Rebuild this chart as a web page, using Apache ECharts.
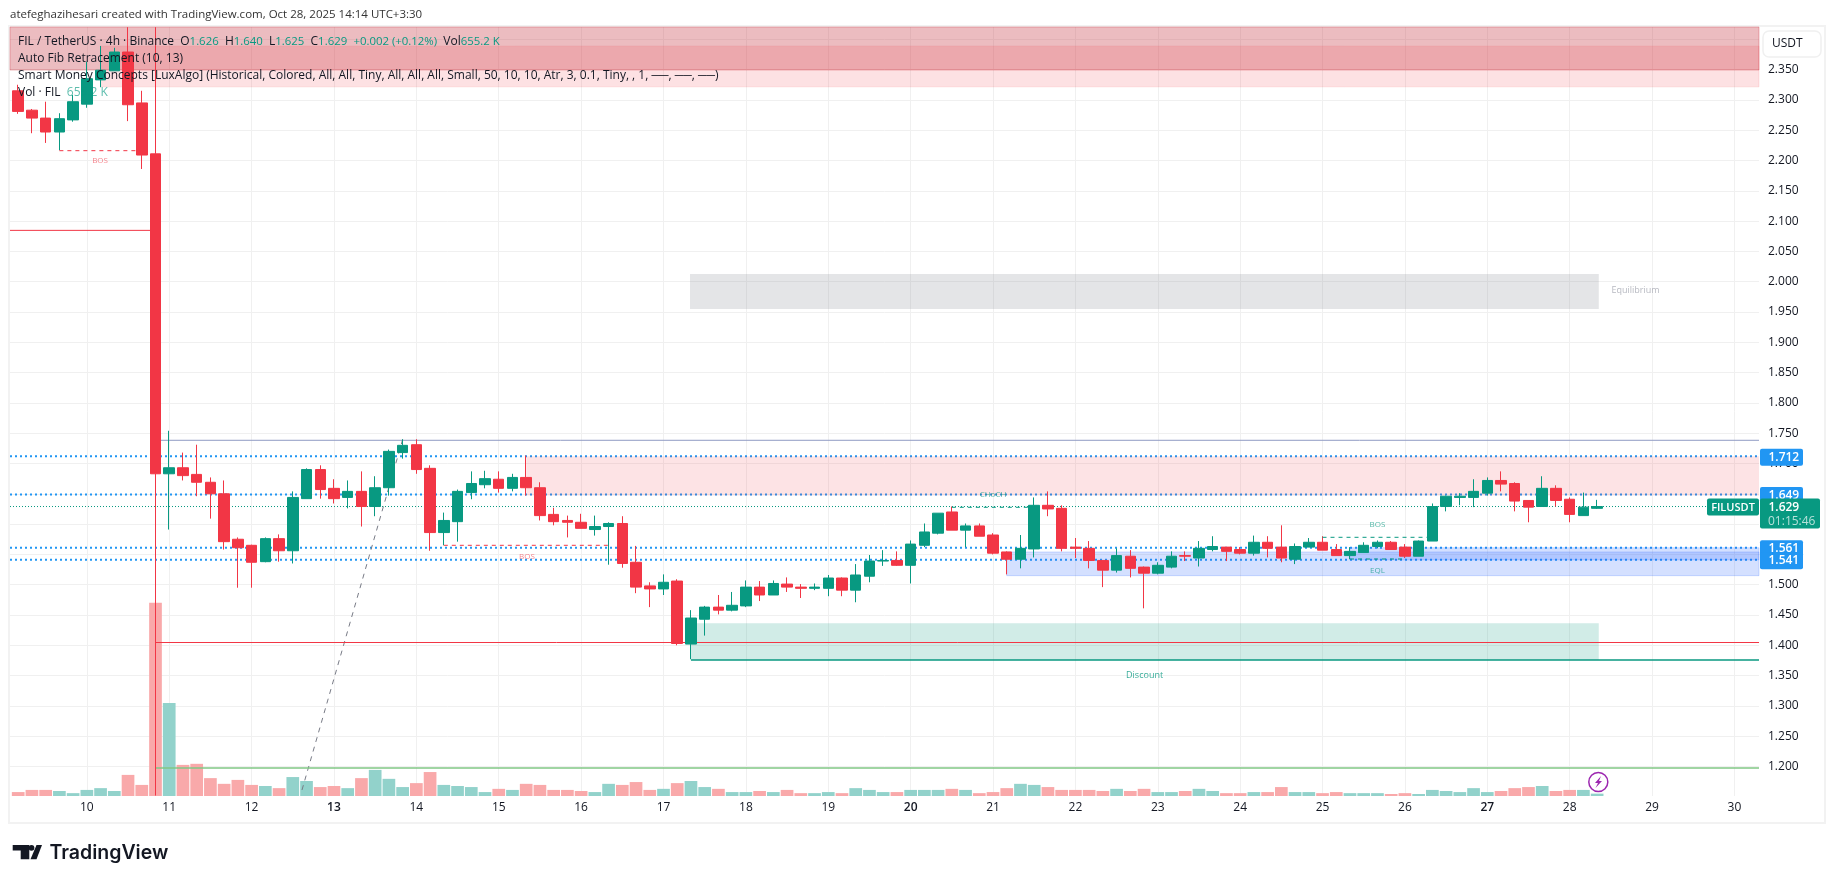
<!DOCTYPE html>
<html lang="en">
<head>
  <meta charset="UTF-8">
  <script src="https://cdn.jsdelivr.net/npm/echarts@6/dist/echarts.min.js"></script>
  <style>html,body{margin:0;padding:0;background:#fff}</style>
</head>
<body>
  <div id="main" style="width:1835px;height:883px;"></div>
  <script type="text/javascript">
    // 4h candles, one row = 10 bars
    const opens = [
      2.315,2.283,2.270,2.247,2.267,2.293,2.333,2.348,2.379,2.295,
      2.211,1.683,1.693,1.682,1.669,1.650,1.575,1.565,1.538,1.576,
      1.556,1.642,1.690,1.659,1.644,1.654,1.629,1.660,1.718,1.731,
      1.692,1.586,1.604,1.652,1.665,1.674,1.659,1.677,1.660,1.616,
      1.606,1.603,1.591,1.596,1.601,1.537,1.498,1.493,1.506,1.402,
      1.443,1.463,1.458,1.465,1.496,1.483,1.501,1.496,1.494,1.494,
      1.511,1.491,1.514,1.539,1.540,1.532,1.565,1.585,1.620,1.590,
      1.597,1.582,1.554,1.542,1.559,1.631,1.626,1.562,1.560,1.540,
      1.524,1.547,1.529,1.519,1.529,1.548,1.544,1.558,1.562,1.558,
      1.552,1.570,1.562,1.542,1.562,1.570,1.558,1.548,1.553,1.563,
      1.570,1.562,1.547,1.572,1.629,1.644,1.644,1.651,1.672,1.667,
      1.639,1.629,1.659,1.641,1.614,1.626
    ];
    const closes = [
      2.281,2.270,2.247,2.269,2.297,2.335,2.349,2.379,2.292,2.209,
      1.683,1.693,1.680,1.669,1.650,1.571,1.561,1.537,1.576,1.556,
      1.644,1.690,1.657,1.642,1.654,1.629,1.660,1.720,1.730,1.690,
      1.586,1.606,1.654,1.667,1.675,1.659,1.677,1.660,1.614,1.604,
      1.603,1.593,1.596,1.601,1.535,1.496,1.493,1.504,1.403,1.445,
      1.463,1.458,1.466,1.496,1.483,1.502,1.496,1.494,1.496,1.511,
      1.491,1.516,1.539,1.540,1.532,1.567,1.587,1.618,1.590,1.597,
      1.580,1.552,1.542,1.560,1.631,1.625,1.560,1.560,1.540,1.524,
      1.548,1.527,1.519,1.532,1.547,1.547,1.560,1.563,1.555,1.552,
      1.570,1.560,1.544,1.563,1.570,1.557,1.548,1.555,1.565,1.570,
      1.558,1.547,1.572,1.629,1.646,1.646,1.654,1.672,1.666,1.638,
      1.628,1.659,1.639,1.616,1.628,1.629
    ];
    const lows = [
      2.277,2.245,2.229,2.217,2.264,2.287,2.321,2.348,2.265,2.186,
      1.152,1.591,1.672,1.646,1.609,1.558,1.495,1.495,1.537,1.538,
      1.535,1.642,1.642,1.634,1.626,1.596,1.613,1.647,1.708,1.683,
      1.556,1.565,1.571,1.641,1.659,1.652,1.654,1.647,1.606,1.598,
      1.578,1.593,1.581,1.533,1.528,1.486,1.463,1.483,1.400,1.377,
      1.416,1.451,1.456,1.463,1.473,1.483,1.488,1.478,1.491,1.481,
      1.481,1.471,1.504,1.531,1.531,1.502,1.562,1.583,1.590,1.562,
      1.580,1.550,1.517,1.527,1.545,1.613,1.555,1.544,1.527,1.496,
      1.520,1.512,1.461,1.517,1.527,1.539,1.530,1.555,1.539,1.550,
      1.548,1.545,1.537,1.534,1.562,1.557,1.548,1.542,1.553,1.560,
      1.558,1.544,1.547,1.572,1.621,1.631,1.628,1.647,1.654,1.621,
      1.603,1.629,1.629,1.603,1.614,1.625
    ];
    const highs = [
      2.325,2.285,2.297,2.278,2.308,2.363,2.389,2.386,2.420,2.315,
      2.420,1.754,1.718,1.731,1.677,1.672,1.578,1.566,1.578,1.583,
      1.654,1.692,1.697,1.674,1.672,1.687,1.679,1.723,1.740,1.740,
      1.697,1.619,1.657,1.687,1.688,1.687,1.683,1.713,1.669,1.627,
      1.614,1.617,1.614,1.603,1.613,1.564,1.504,1.517,1.509,1.458,
      1.465,1.483,1.488,1.507,1.506,1.507,1.512,1.501,1.502,1.516,
      1.512,1.534,1.549,1.557,1.555,1.573,1.601,1.618,1.629,1.601,
      1.601,1.585,1.555,1.582,1.644,1.654,1.631,1.577,1.572,1.540,
      1.560,1.557,1.530,1.537,1.555,1.555,1.572,1.580,1.562,1.562,
      1.581,1.580,1.598,1.568,1.577,1.580,1.567,1.562,1.570,1.573,
      1.572,1.567,1.573,1.634,1.647,1.651,1.674,1.677,1.687,1.669,
      1.639,1.679,1.664,1.644,1.652,1.640
    ];
    // volume in millions
    const volumes = [
      1.1,1.7,1.7,1.4,0.8,1.7,2.2,1.4,5.9,3.1,
      54,26,8.7,9,5,3.4,4.5,3.1,2.8,2.2,
      5.3,4.2,2.5,2.8,2.2,5,7.3,4.8,2.5,3.6,
      6.7,3.1,2.8,2.5,1.1,2,1.7,3.4,3.1,1.7,
      1.7,1.4,1.1,3.4,3.1,3.9,1.7,2,3.6,4.2,
      2.5,2,1.1,1.1,1.4,1.1,1.7,0.8,0.8,1.1,
      0.8,2.2,1.7,1.1,1.1,1.7,1.7,1.7,2,1.7,
      0.8,1.1,2.2,3.4,3.1,2.5,1.7,1.7,1.7,1.4,
      2,1.4,2,1.1,1.1,1.4,2,1.4,0.8,0.8,
      1.1,1.1,2.5,1.1,1.1,0.8,1.1,0.8,0.8,0.8,
      0.56,0.8,0.56,1.7,1.4,1.1,2.2,1.1,1.4,2.2,
      2.5,2.8,1.4,1.7,1.7,0.66
    ];

    const dayLabels = ['10','11','12','13','14','15','16','17','18','19','20','21','22','23','24','25','26','27','28','29','30'];
    const boldDays = ['13','20','27'];
    const dayTicks = dayLabels.map((d, i) => 5 + i * 6);
    const priceTicks = [1.2,1.25,1.3,1.35,1.4,1.45,1.5,1.55,1.6,1.65,1.7,1.75,1.8,1.85,1.9,1.95,2.0,2.05,2.1,2.15,2.2,2.25,2.3,2.35,2.4];

    // [first bar, last bar, low price, high price]; null = to the chart edge
    const premiumZone = [null, null, 2.3493, 2.4203];
    const premiumZone2 = [6, null, 2.3215, 2.3887];
    const supplyZone = [37, null, 1.647, 1.712];
    const equilibriumZone = [48.93, 115.12, 1.9549, 2.0127];
    const discountZone = [49, 115.12, 1.3757, 1.4363];
    const liquidityZones = [[72, null, 1.5149, 1.554], [97, null, 1.541, 1.561]];

    // [first bar, last bar, price]
    const alertPrices = [1.712, 1.649, 1.561, 1.541];
    const lastPrice = 1.629;
    const redLevels = [[null, 10, 2.0847], [10, null, 1.4046]];
    const topLevel = [10.4, null, 1.7383];
    const discountLevel = [49, null, 1.3757];
    const volumeLevel = [10, null, 1.1975];
    const redBreaks = [[3, 9, 2.2162], [31, 43, 1.565]];
    const tealBreaks = [[68, 74, 1.6277], [95, 103, 1.5782], [97, 101, 1.5424]];
    const fibTrend = [[20.67, 1.1612], [28, 1.7395]];

    const redNotes = [[5.96, 2.1992, 'BOS'], [37.05, 1.5457, 'BOS']];
    const tealNotes = [[71, 1.6485, 'CHoCH'], [99, 1.599, 'BOS'], [99, 1.5231, 'EQL']];
    const otherNotes = [[82.04, 1.351, 'Discount', '#089981'], [117.8, 1.9863, 'Equilibrium', '#a5a8b2']];

    const UP = '#089981', DOWN = '#f23645';
    const xMin = -0.597, xMax = 126.79;
    const FONT = '"Open Sans", sans-serif';

    const edge = (v, d) => v === null ? d : v;

    function zoneSeries(zones, color, border) {
      return {
        type: 'line', data: [], silent: true, z: 3, animation: false,
        markArea: {
          silent: true, animation: false, z: 3,
          itemStyle: { color: color, borderColor: border || 'transparent', borderWidth: border ? 1 : 0 },
          data: zones.map(z => [{ coord: [edge(z[0], xMin), z[3]] }, { coord: [edge(z[1], xMax), z[2]] }])
        }
      };
    }

    function levelSeries(level, color, width, dash, z) {
      return {
        type: 'line', silent: true, animation: false, showSymbol: false, z: z || 2,
        data: [[edge(level[0], xMin), level[2]], [edge(level[1], xMax), level[2]]],
        lineStyle: { color: color, width: width, type: dash || 'solid' }
      };
    }

    function noteSeries(notes, color, size) {
      return {
        type: 'scatter', silent: true, animation: false, symbolSize: 0, z: 4,
        data: notes.map(n => ({ value: [n[0], n[1]], name: n[2] })),
        label: { show: true, position: 'inside', formatter: '{b}', color: color, fontSize: size, fontFamily: FONT }
      };
    }

    const series = [
      zoneSeries([premiumZone], 'rgba(200,60,70,0.34)', 'rgba(210,60,70,0.35)'),
      zoneSeries([premiumZone2], 'rgba(242,54,69,0.15)', 'rgba(242,54,69,0.12)'),
      zoneSeries([supplyZone], 'rgba(242,54,69,0.14)'),
      zoneSeries([equilibriumZone], 'rgba(120,123,134,0.2)'),
      zoneSeries([discountZone], 'rgba(8,153,129,0.19)'),
      zoneSeries(liquidityZones, 'rgba(41,98,255,0.2)', 'rgba(41,98,255,0.2)')
    ];
    alertPrices.forEach(p => series.push(levelSeries([null, null, p], '#2196f3', 2, [2, 3])));
    series.push(levelSeries([null, null, lastPrice], UP, 1, [1, 2]));
    redLevels.forEach(l => series.push(levelSeries(l, DOWN, 1, 'solid', 4)));
    series.push(levelSeries(topLevel, '#8f9bc4', 1));
    series.push(levelSeries(discountLevel, UP, 1.5, 'solid', 4));
    series.push(levelSeries(volumeLevel, '#81c784', 1.5, 'solid', 4));
    redBreaks.forEach(l => series.push(levelSeries(l, DOWN, 1, [4, 4], 6)));
    tealBreaks.forEach(l => series.push(levelSeries(l, UP, 1, [4, 4], 6)));
    series.push({
      type: 'line', silent: true, animation: false, showSymbol: false, z: 3, data: fibTrend,
      lineStyle: { color: '#787b86', width: 1, type: [5, 5] }
    });
    series.push(noteSeries(redNotes, 'rgba(242,54,69,0.75)', 8));
    series.push(noteSeries(tealNotes, 'rgba(8,153,129,0.85)', 8));
    otherNotes.forEach(n => series.push(noteSeries([n], n[3], 9)));

    series.push({
      type: 'bar', name: 'Vol', yAxisIndex: 1, barWidth: 12.7, z: 3, silent: true, animation: false,
      data: volumes.map((v, i) => ({
        value: [i, v],
        itemStyle: { color: closes[i] >= opens[i] ? '#92d2cb' : '#f9a9aa' }
      }))
    });
    series.push({
      type: 'candlestick', name: 'FILUSDT', barWidth: 11, z: 5, silent: true, animation: false,
      encode: { x: 0, y: [1, 2, 3, 4] },
      data: opens.map((o, i) => [i, o, closes[i], lows[i], highs[i]]),
      itemStyle: { color: UP, color0: DOWN, borderColor: UP, borderColor0: DOWN, borderWidth: 1 }
    });

    var myChart = echarts.init(document.getElementById('main'));
    myChart.setOption({
      animation: false,
      backgroundColor: '#fff',
      grid: { left: 10, top: 27, width: 1749, height: 769 },
      xAxis: {
        type: 'value', min: xMin, max: xMax,
        axisLine: { show: false },
        axisTick: { show: false, customValues: dayTicks },
        splitLine: { show: true, lineStyle: { color: '#f0f0f0', width: 1 } },
        axisLabel: {
          customValues: dayTicks, margin: 6, color: '#131722', fontSize: 12, fontFamily: FONT,
          formatter: v => {
            const d = dayLabels[(v - 5) / 6];
            return boldDays.includes(d) ? '{b|' + d + '}' : d;
          },
          rich: { b: { fontWeight: 600, fontSize: 12, fontFamily: FONT, color: '#131722' } }
        }
      },
      yAxis: [{
        type: 'value', position: 'right', min: 1.1513, max: 2.4203, scale: true,
        axisLine: { show: false },
        axisTick: { show: false, customValues: priceTicks },
        splitLine: { show: true, lineStyle: { color: '#f0f0f0', width: 1 } },
        axisLabel: {
          customValues: priceTicks, margin: 9, color: '#131722', fontSize: 12, fontFamily: FONT,
          padding: [2, 0, 0, 0],
          formatter: v => v.toFixed(3)
        }
      }, {
        type: 'value', min: 0, max: 215, show: false
      }],
      series: series
    });

    // overlay texts, tags at their prices
    const priceY = p => myChart.convertToPixel({ yAxisIndex: 0 }, p);

    function tag(p, text) {
      const y = priceY(p) + 1;
      return [
        { type: 'rect', z: 20, shape: { x: 1760, y: y - 8.5, width: 43, height: 17, r: 2 }, style: { fill: '#2196f3' } },
        { type: 'text', z: 21, style: { x: 1768.5, y: y, text: text, fill: '#fff', font: '600 12px ' + FONT, verticalAlign: 'middle' } }
      ];
    }

    const legendLine = (y, text, rich) => ({
      type: 'text', z: 30,
      style: { x: 18, y: y, text: text, verticalAlign: 'middle', fill: '#131722', font: '12px ' + FONT, rich: rich || {} }
    });
    const legendRich = {
      v: { fill: UP, font: '11.4px ' + FONT },
      f: { fill: 'rgba(8,153,129,0.65)', font: '12px ' + FONT }
    };

    const lastY = priceY(lastPrice) + 1;
    myChart.setOption({
      graphic: [
        { type: 'text', z: 30, style: { x: 10, y: 15, text: 'atefeghazihesari created with TradingView.com, Oct 28, 2025 14:14 UTC+3:30', verticalAlign: 'middle', fill: '#333', font: '11.5px ' + FONT } },
        { type: 'rect', z: 0, shape: { x: 9, y: 26, width: 1816, height: 797 }, style: { fill: 'none', stroke: '#f2f2f2', lineWidth: 2 } },
        legendLine(42, 'FIL / TetherUS · 4h · Binance  O{v|1.626}  H{v|1.640}  L{v|1.625}  C{v|1.629}  {v|+0.002 (+0.12%)}  Vol{v|655.2 K}', legendRich),
        legendLine(59, 'Auto Fib Retracement (10, 13)'),
        legendLine(76, 'Smart Money Concepts [LuxAlgo] (Historical, Colored, All, All, Tiny, All, All, All, Small, 50, 10, 10, Atr, 3, 0.1, Tiny, , 1, ──, ──, ──)'),
        legendLine(93, 'Vol · FIL  {f|655.2 K}', legendRich),

        { type: 'rect', z: 20, shape: { x: 1763, y: 31, width: 58, height: 26, r: 6 }, style: { fill: '#fff', stroke: '#f0f0f0', lineWidth: 1.5 } },
        { type: 'text', z: 21, style: { x: 1772, y: 44, text: 'USDT', verticalAlign: 'middle', fill: '#131722', font: '12px ' + FONT } },

        ...alertPrices.flatMap(p => tag(p, p.toFixed(3))),
        { type: 'rect', z: 22, shape: { x: 1760, y: lastY - 9, width: 60, height: 30, r: 2 }, style: { fill: UP } },
        { type: 'text', z: 23, style: { x: 1768.5, y: lastY, text: lastPrice.toFixed(3), verticalAlign: 'middle', fill: '#fff', font: '600 12px ' + FONT } },
        { type: 'text', z: 23, style: { x: 1768, y: lastY + 14, text: '01:15:46', verticalAlign: 'middle', fill: 'rgba(255,255,255,0.7)', font: '12px ' + FONT } },
        { type: 'rect', z: 22, shape: { x: 1707, y: lastY - 9, width: 52, height: 17, r: 2 }, style: { fill: UP } },
        { type: 'text', z: 23, style: { x: 1733, y: lastY, text: 'FILUSDT', align: 'center', verticalAlign: 'middle', fill: '#fff', font: '600 11px ' + FONT } },

        { type: 'circle', z: 25, shape: { cx: 1598.3, cy: 782, r: 9.5 }, style: { fill: '#fff', stroke: '#9c27b0', lineWidth: 1.5 } },
        { type: 'polygon', z: 26, shape: { points: [[1601, 776], [1595, 783], [1598, 783], [1595.5, 788], [1602, 781], [1599, 781]] }, style: { fill: '#9c27b0' } },

        { type: 'polygon', z: 30, shape: { points: [[12.7, 845], [29.3, 845], [29.3, 859.3], [20.7, 859.3], [20.7, 850.5], [12.7, 850.5]] }, style: { fill: '#131722' } },
        { type: 'circle', z: 30, shape: { cx: 31.5, cy: 847.8, r: 2.9 }, style: { fill: '#131722' } },
        { type: 'polygon', z: 30, shape: { points: [[36.5, 845], [42, 845], [36.5, 859.3], [30.5, 859.3]] }, style: { fill: '#131722' } },
        { type: 'text', z: 30, style: { x: 49.5, y: 853, text: 'TradingView', verticalAlign: 'middle', fill: '#131722', font: '600 19.5px Inter, sans-serif' } }
      ]
    });
  </script>
</body>
</html>
